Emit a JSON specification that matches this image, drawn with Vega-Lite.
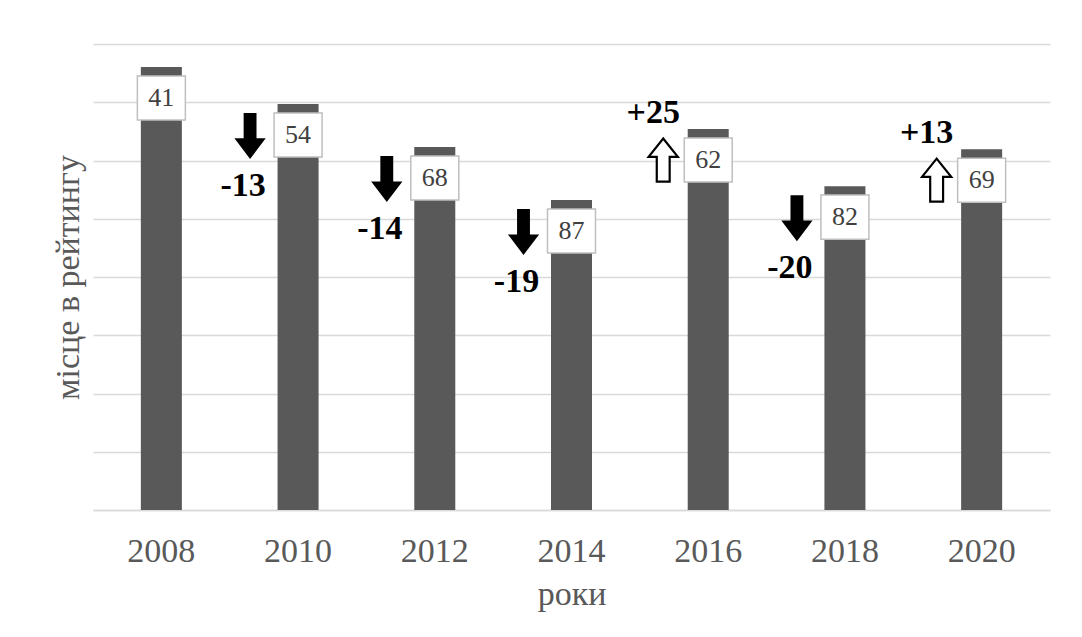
{
  "$schema": "https://vega.github.io/schema/vega-lite/v6.json",
  "width": 957,
  "height": 466,
  "autosize": "none",
  "padding": {"left": 93, "top": 44, "right": 32, "bottom": 127},
  "background": "white",
  "data": {
    "values": [
      {"year": "2008", "value": 152.1, "rank": "41", "change": "", "dir": "none"},
      {"year": "2010", "value": 139.4, "rank": "54", "change": "-13", "dir": "down"},
      {"year": "2012", "value": 124.6, "rank": "68", "change": "-14", "dir": "down"},
      {"year": "2014", "value": 106.4, "rank": "87", "change": "-19", "dir": "down"},
      {"year": "2016", "value": 130.8, "rank": "62", "change": "+25", "dir": "up"},
      {"year": "2018", "value": 111.2, "rank": "82", "change": "-20", "dir": "down"},
      {"year": "2020", "value": 123.9, "rank": "69", "change": "+13", "dir": "up"}
    ]
  },
  "encoding": {
    "x": {
      "field": "year", "type": "ordinal",
      "scale": {"paddingInner": 0.7, "paddingOuter": 0.35},
      "axis": {
        "title": "роки", "labelAngle": 0, "ticks": false,
        "labelFont": "Liberation Serif", "labelFontSize": 34, "labelColor": "#595959",
        "labelPadding": 24,
        "titleFont": "Liberation Serif", "titleFontSize": 34, "titleColor": "#595959",
        "titleFontWeight": "normal", "titlePadding": 9,
        "domainColor": "#d9d9d9", "domainWidth": 1.5, "grid": false
      }
    },
    "y": {
      "field": "value", "type": "quantitative",
      "scale": {"domain": [0, 160], "nice": false},
      "axis": {
        "title": "місце в рейтингу", "labels": false, "ticks": false, "domain": false,
        "values": [0, 20, 40, 60, 80, 100, 120, 140, 160],
        "grid": true, "gridColor": "#d9d9d9", "gridWidth": 1.5,
        "titleFont": "Liberation Serif", "titleFontSize": 34, "titleColor": "#595959",
        "titleFontWeight": "normal", "titlePadding": 8
      }
    }
  },
  "layer": [
    {"mark": {"type": "bar", "color": "#595959"}},
    {
      "mark": {
        "type": "point", "filled": true, "fill": "white", "stroke": "#bfbfbf", "strokeWidth": 1.5,
        "opacity": 1, "size": 2304, "yOffset": 31,
        "shape": "M-1,-0.917L1,-0.917L1,0.917L-1,0.917Z"
      }
    },
    {
      "mark": {
        "type": "text", "yOffset": 31, "font": "Liberation Serif", "fontSize": 26,
        "color": "#404040", "baseline": "middle", "align": "center"
      },
      "encoding": {"text": {"field": "rank"}}
    },
    {
      "transform": [{"filter": "datum.dir === 'down'"}],
      "mark": {
        "type": "point", "filled": true, "fill": "black", "opacity": 1, "strokeWidth": 0,
        "size": 2116, "xOffset": -48, "yOffset": 32,
        "shape": "M-0.28,-1L0.28,-1L0.28,0.1L0.68,0.1L0,1L-0.68,0.1L-0.28,0.1Z"
      }
    },
    {
      "transform": [{"filter": "datum.dir === 'up'"}],
      "mark": {
        "type": "point", "filled": true, "fill": "white", "stroke": "black", "strokeWidth": 2.2,
        "opacity": 1, "size": 1849, "xOffset": -45, "yOffset": 31,
        "shape": "M0,-1L0.68,-0.15L0.3,-0.15L0.3,1L-0.3,1L-0.3,-0.15L-0.68,-0.15Z"
      }
    },
    {
      "transform": [{"filter": "datum.dir === 'down'"}],
      "mark": {
        "type": "text", "xOffset": -55, "yOffset": 82, "font": "Liberation Serif",
        "fontSize": 34, "fontWeight": "bold", "color": "black", "baseline": "middle", "align": "center"
      },
      "encoding": {"text": {"field": "change"}}
    },
    {
      "transform": [{"filter": "datum.dir === 'up'"}],
      "mark": {
        "type": "text", "xOffset": -55, "yOffset": -16, "font": "Liberation Serif",
        "fontSize": 34, "fontWeight": "bold", "color": "black", "baseline": "middle", "align": "center"
      },
      "encoding": {"text": {"field": "change"}}
    }
  ],
  "config": {"view": {"stroke": null}}
}
